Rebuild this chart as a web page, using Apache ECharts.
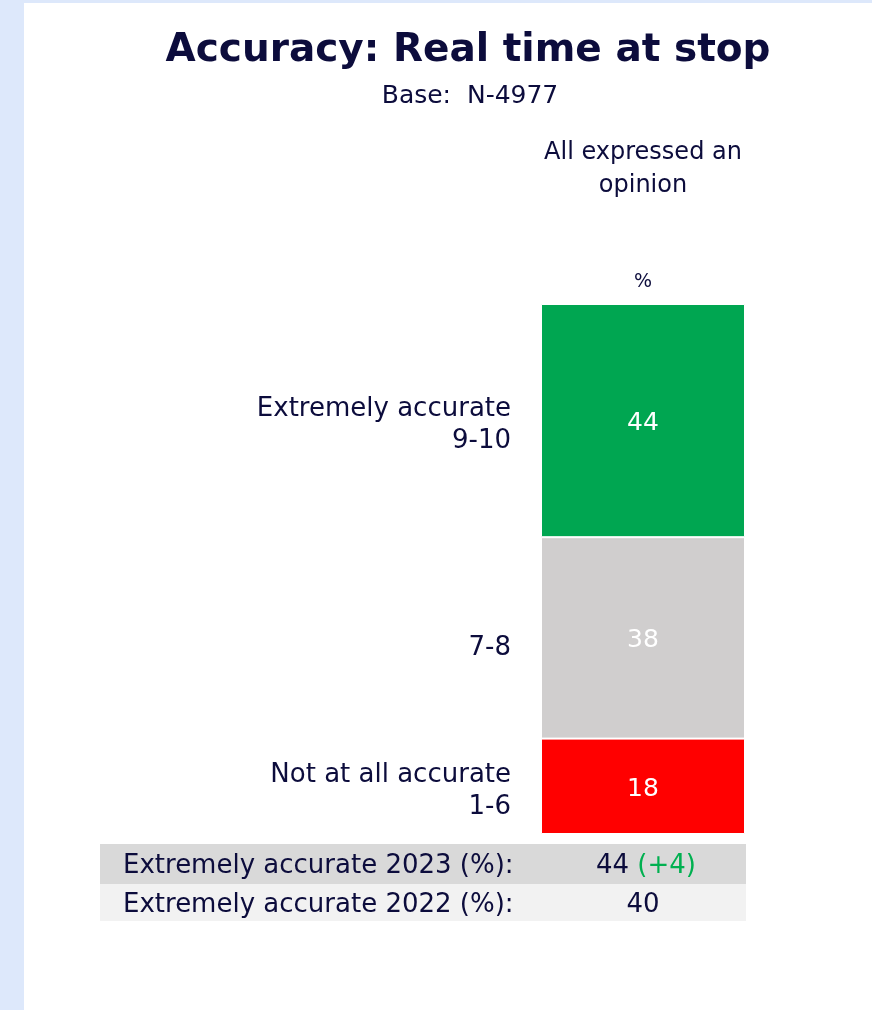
<!DOCTYPE html>
<html>
<head>
<meta charset="utf-8">
<script src="https://cdn.jsdelivr.net/npm/echarts@6/dist/echarts.min.js"></script>
<style>
html,body{margin:0;padding:0;background:#dde8fb;}
#c{width:872px;height:1010px;}
</style>
</head>
<body>
<div id="c"></div>
<script>
// ---- data ----
const titleText = 'Accuracy: Real time at stop';
const baseText = 'Base:  N-4977';
const columnHeader = 'All expressed an\nopinion';
const unitLabel = '%';
const categories = ['Extremely accurate\n9-10', '7-8', 'Not at all accurate\n1-6'];
const values = [44, 38, 18];
const tableLabels = ['Extremely accurate 2023 (%):', 'Extremely accurate 2022 (%):'];
const tableValues = [44, 40];

// ---- styles ----
const NAVY = '#0c0c3c';
const FONT = 'DejaVu Sans';
const segColors = ['#00a651', '#d0cece', '#ff0000'];

const chart = echarts.init(document.getElementById('c'), null, {renderer: 'canvas'});

// stack bottom-up: reverse order (last category at bottom)
const order = [2, 1, 0];
const series = [];
order.forEach(function (i) {
  series.push({
    type: 'bar', stack: 'v', xAxisIndex: 0, yAxisIndex: 0,
    barWidth: '100%',
    data: [values[i]],
    itemStyle: {color: segColors[i], borderColor: '#ffffff', borderWidth: 1},
    label: {show: true, position: 'inside', offset: [0, 3], color: '#ffffff', fontFamily: FONT, fontSize: 25,
      formatter: function (p) { return p.value; }},
    silent: true
  });
});
order.forEach(function (i) {
  series.push({
    type: 'bar', stack: 'lab', xAxisIndex: 1, yAxisIndex: 1,
    barWidth: '100%',
    data: [values[i]],
    itemStyle: {color: 'rgba(0,0,0,0)'},
    label: {show: true, position: 'left', distance: 30, offset: [0, i === 1 ? 10 : 5], align: 'right',
      color: NAVY, fontFamily: FONT, fontSize: 26, lineHeight: 32,
      formatter: function () { return categories[i]; }},
    silent: true
  });
});

const diff = tableValues[0] - tableValues[1];
const diffText = (diff >= 0 ? '+' : '') + diff;
const tFont = '26px "' + FONT + '"';

chart.setOption({
  backgroundColor: '#dde8fb',
  animation: false,
  grid: [
    {left: 541, top: 304, width: 204, height: 530},
    {left: 541, top: 304, width: 204, height: 530}
  ],
  xAxis: [
    {type: 'category', data: ['All'], gridIndex: 0, show: false},
    {type: 'category', data: ['All'], gridIndex: 1, show: false}
  ],
  yAxis: [
    {type: 'value', min: 0, max: 100, gridIndex: 0, show: false},
    {type: 'value', min: 0, max: 100, gridIndex: 1, show: false}
  ],
  graphic: [
    {type: 'rect', z: -10, shape: {x: 24, y: 3, width: 848, height: 1007}, style: {fill: '#ffffff'}},
    {type: 'text', style: {text: titleText, x: 468, y: 51, align: 'center', verticalAlign: 'middle',
      font: 'bold 39px "' + FONT + '"', fill: NAVY}},
    {type: 'text', style: {text: baseText, x: 470, y: 96, align: 'center', verticalAlign: 'middle',
      font: '25px "' + FONT + '"', fill: NAVY}},
    {type: 'text', style: {text: columnHeader, x: 643, y: 169, align: 'center', verticalAlign: 'middle',
      font: '24px "' + FONT + '"', fill: NAVY, lineHeight: 33}},
    {type: 'text', style: {text: unitLabel, x: 643, y: 282, align: 'center', verticalAlign: 'middle',
      font: '19px "' + FONT + '"', fill: NAVY}},
    {type: 'rect', shape: {x: 100, y: 844, width: 646, height: 40}, style: {fill: '#d9d9d9'}},
    {type: 'rect', shape: {x: 100, y: 884, width: 646, height: 37}, style: {fill: '#f2f2f2'}},
    {type: 'text', style: {text: tableLabels[0], x: 123, y: 866, align: 'left', verticalAlign: 'middle',
      font: tFont, fill: NAVY}},
    {type: 'text', style: {text: tableLabels[1], x: 123, y: 905, align: 'left', verticalAlign: 'middle',
      font: tFont, fill: NAVY}},
    {type: 'text', style: {text: '{a|' + tableValues[0] + ' }{b|(' + diffText + ')}', x: 646, y: 866,
      align: 'center', verticalAlign: 'middle',
      rich: {a: {fill: NAVY, font: tFont}, b: {fill: '#00b050', font: tFont}}}},
    {type: 'text', style: {text: String(tableValues[1]), x: 643, y: 905, align: 'center', verticalAlign: 'middle',
      font: tFont, fill: NAVY}}
  ],
  series: series
});
</script>
</body>
</html>
